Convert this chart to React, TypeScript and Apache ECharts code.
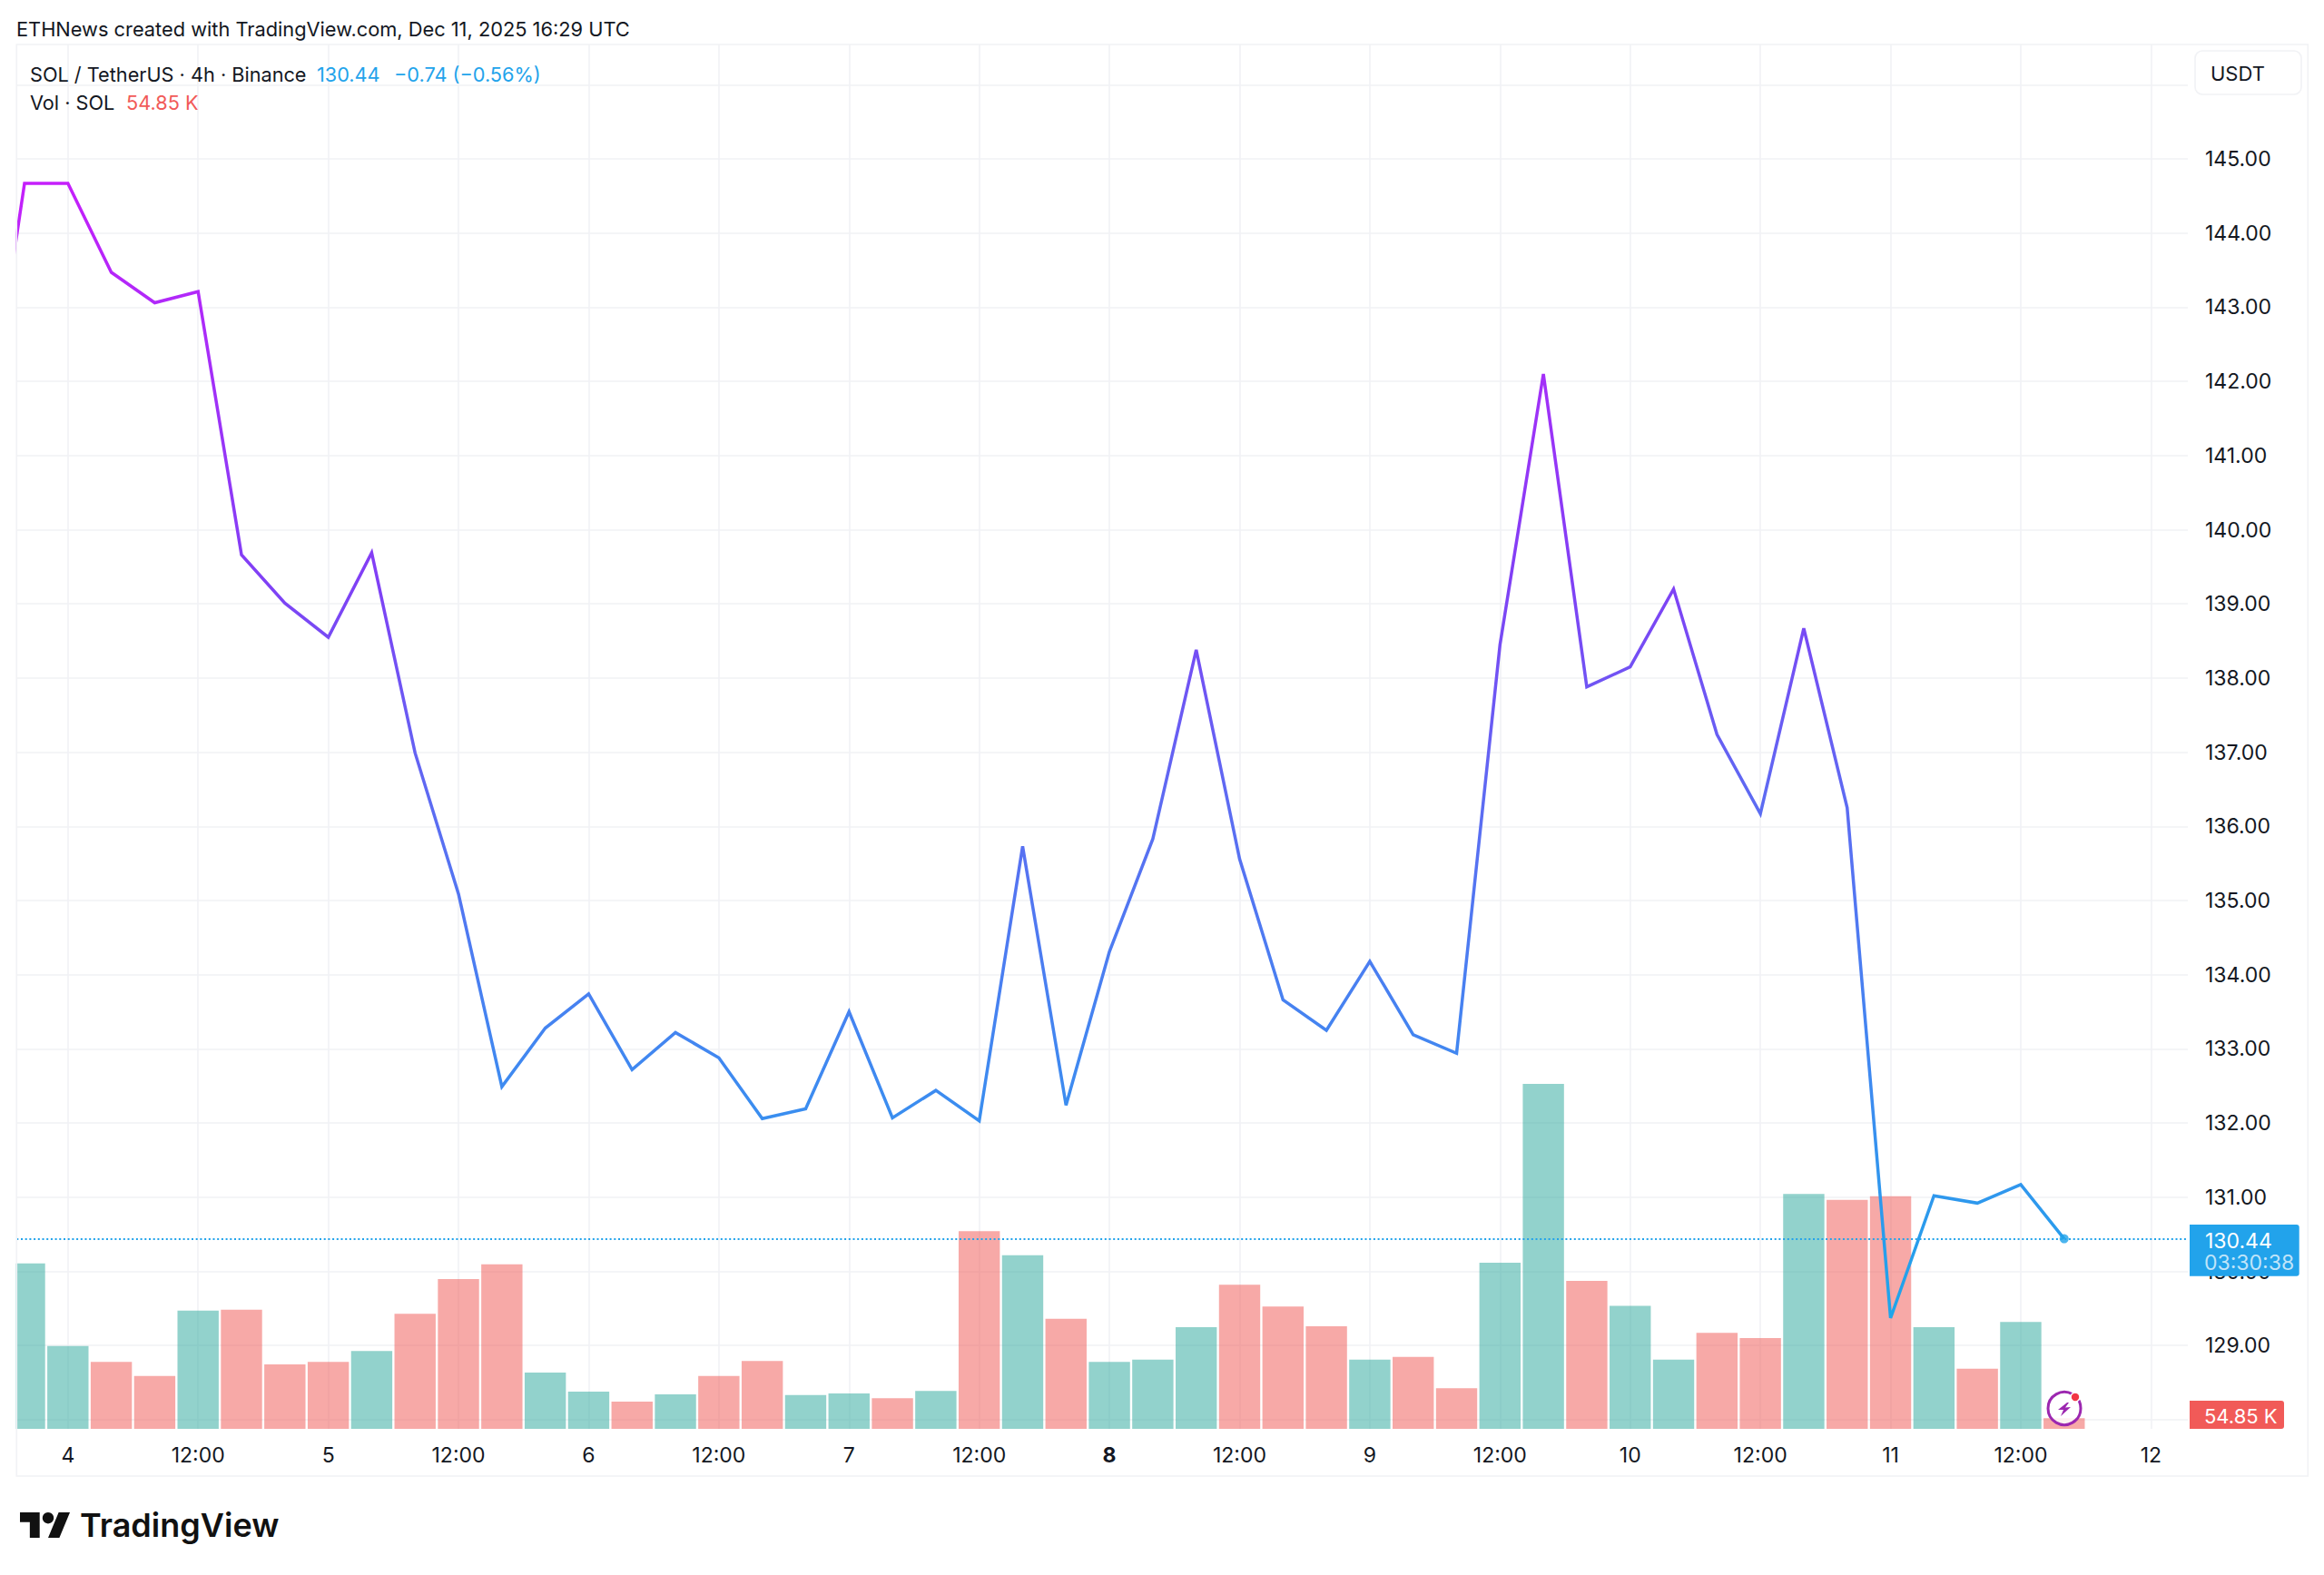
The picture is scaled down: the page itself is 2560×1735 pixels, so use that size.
import React, { useEffect, useRef } from "react";
import * as echarts from "echarts";

const firstPriceIndex = -2;
const closes = [
  140.75, 144.67, 144.67, 143.47, 143.06, 143.21, 139.66, 139.01, 138.55, 139.69,
  136.99, 135.09, 132.49, 133.28, 133.74, 132.72, 133.22, 132.88, 132.06, 132.19,
  133.5, 132.07, 132.44, 132.03, 135.73, 132.24, 134.31, 135.83, 138.38, 135.56,
  133.66, 133.25, 134.18, 133.19, 132.94, 138.45, 142.1, 137.88, 138.15, 139.2,
  137.24, 136.17, 138.67, 136.25, 129.37, 131.02, 130.92, 131.17, 130.44,
];

const firstVolumeIndex = -1;
const volumesK = [
  855, 428, 346, 273, 611, 616, 333, 346, 402, 594, 774, 850, 291, 192, 141, 178,
  273, 350, 175, 183, 158, 196, 1021, 897, 569, 346, 358, 525, 744, 632, 530, 358,
  372, 210, 858, 1782, 764, 636, 358, 496, 469, 1213, 1183, 1202, 525, 311, 552, 54.85,
];
const volumeSides = [
  "u", "u", "d", "d", "u", "d", "d", "d", "u", "d", "d", "d", "u", "u", "d", "u",
  "d", "d", "u", "u", "d", "u", "d", "u", "d", "u", "u", "u", "d", "d", "d", "u",
  "d", "d", "u", "u", "d", "u", "u", "d", "d", "u", "d", "d", "u", "d", "u", "d",
];

const timeTickIndexes = [0, 3, 6, 9, 12, 15, 18, 21, 24, 27, 30, 33, 36, 39, 42, 45, 48];
const timeTickLabels = ["4", "12:00", "5", "12:00", "6", "12:00", "7", "12:00", "8", "12:00", "9", "12:00", "10", "12:00", "11", "12:00", "12"];
const boldTimeLabel = "8";

const lastPrice = 130.44;
const lastIndex = 46;
const countdown = "03:30:38";
const lastVolumeLabel = "54.85 K";

const FONT = "Inter, 'Noto Sans', sans-serif";
const INK = "#131722";
const GRID = "#f1f2f5";
const BLUE = "#22a3eb";
const RED = "#f15a58";

const LOGO_D = "M14 18H7V7H0V0h14v18zM28 18h-8l7.5-18h8L28 18z";
echarts.graphic.registerShape("tvlogo", echarts.graphic.extendPath(LOGO_D, {}) as any);

function label(text: string, x: number, y: number, fill: string, fontSize = 23, extra: any = {}) {
  return {
    type: "text",
    z: 100,
    silent: true,
    style: { text, x, y, fill, fontSize, fontFamily: FONT, verticalAlign: "middle", textVerticalAlign: "middle", ...extra },
  };
}

function overlays(priceY: number) {
  return [
    { type: "rect", z: 90, silent: true, shape: { x: 0, y: 49, width: 17.4, height: 1535 }, style: { fill: "#ffffff" } },
    { type: "rect", z: 91, silent: true, shape: { x: 18.3, y: 49, width: 2524, height: 1577 }, style: { fill: "none", stroke: GRID, lineWidth: 1.6 } },
    label("ETHNews created with TradingView.com, Dec 11, 2025 16:29 UTC", 18, 32, INK, 21.8),
    label("SOL / TetherUS · 4h · Binance", 33, 82, INK, 21.7),
    label("130.44", 349, 82, BLUE, 21.7),
    label("−0.74 (−0.56%)", 434, 82, BLUE, 21.7),
    label("Vol · SOL", 33, 113, INK, 21.7),
    label(lastVolumeLabel, 139, 113, RED, 21.7),
    { type: "rect", z: 99, silent: true, shape: { x: 2418, y: 56, width: 117, height: 48, r: 8 }, style: { fill: "#fff", stroke: GRID, lineWidth: 1.6 } },
    label("USDT", 2435, 81, INK, 22),
    { type: "rect", z: 99, silent: true, shape: { x: 2412, y: priceY - 15.6, width: 120.7, height: 56.7, r: [0, 3, 3, 0] }, style: { fill: BLUE } },
    label("130.44", 2429, priceY + 2, "#ffffff"),
    label(countdown, 2428, priceY + 26.4, "rgba(255,255,255,0.72)"),
    { type: "rect", z: 99, silent: true, shape: { x: 2412, y: 1543, width: 104, height: 31, r: [0, 3, 3, 0] }, style: { fill: RED } },
    label(lastVolumeLabel, 2428, 1559.5, "#ffffff", 22),
    { type: "circle", z: 99, silent: true, shape: { cx: 2274, cy: 1551.5, r: 18 }, style: { fill: "rgba(255,255,255,0.85)", stroke: "#9c27b0", lineWidth: 3 } },
    { type: "polygon", z: 100, silent: true, shape: { points: [[2277, 1545], [2267, 1553], [2273, 1553], [2270, 1560], [2281, 1550], [2275, 1550.5], [2279, 1545]] }, style: { fill: "#9c27b0" } },
    { type: "circle", z: 101, silent: true, shape: { cx: 2286, cy: 1539, r: 5 }, style: { fill: "#f23645", stroke: "#fff", lineWidth: 1.5 } },
    { type: "tvlogo", z: 100, silent: true, x: 22, y: 1666, scaleX: 1.55, scaleY: 1.55, style: { fill: "#111" } },
    { type: "circle", z: 100, silent: true, shape: { cx: 22 + 20 * 1.55, cy: 1666 + 4 * 1.55, r: 4 * 1.55 }, style: { fill: "#111" } },
    label("TradingView", 88, 1680, "#111", 36, { fontWeight: 600 }),
  ];
}

export default function App() {
  const ref = useRef<HTMLDivElement>(null);
  useEffect(() => {
    const chart = echarts.init(ref.current!, undefined, { renderer: "svg" });
    const xMin = -1.182;
    const xMax = 48.85;
    const option: any = {
      animation: false,
      backgroundColor: "#ffffff",
      textStyle: { fontFamily: FONT },
      grid: [
        { left: 18.3, top: 93.3, width: 2391.7, height: 1470.6 },
        { left: 18.3, top: 49, width: 2391.7, height: 1525 },
      ],
      xAxis: [
        { type: "value", gridIndex: 0, min: xMin, max: xMax, show: false, splitLine: { show: false } },
        {
          type: "value",
          gridIndex: 1,
          min: xMin,
          max: xMax,
          axisLine: { show: false },
          axisTick: { show: false, customValues: timeTickIndexes },
          splitLine: { show: true, lineStyle: { color: GRID, width: 1.6 } },
          axisLabel: {
            customValues: timeTickIndexes,
            margin: 17,
            hideOverlap: false,
            showMinLabel: true,
            showMaxLabel: true,
            color: INK,
            fontSize: 23,
            fontFamily: FONT,
            formatter: (v: number) => {
              const t = timeTickLabels[timeTickIndexes.indexOf(v)] ?? "";
              return t === boldTimeLabel ? `{b|${t}}` : t;
            },
            rich: { b: { fontWeight: 700, fontSize: 23, fontFamily: FONT, color: INK } },
          },
        },
      ],
      yAxis: [
        {
          type: "value",
          gridIndex: 0,
          position: "right",
          min: 128,
          max: 146,
          interval: 1,
          axisLine: { show: false },
          axisTick: { show: false },
          splitLine: { show: true, lineStyle: { color: GRID, width: 1.6 } },
          axisLabel: {
            margin: 19,
            color: INK,
            fontSize: 23,
            fontFamily: FONT,
            formatter: (v: number) => (v === 146 || v === 128 ? "" : v.toFixed(2)),
          },
        },
        { type: "value", gridIndex: 1, min: 0, max: 7152, show: false, splitLine: { show: false } },
      ],
      series: [
        {
          type: "bar",
          xAxisIndex: 1,
          yAxisIndex: 1,
          barWidth: 45.4,
          z: 2,
          data: volumesK.map((v, i) => ({
            value: [firstVolumeIndex + i, v],
            itemStyle: { color: volumeSides[i] === "u" ? "rgba(38,166,154,0.5)" : "rgba(239,83,80,0.5)" },
          })),
        },
        {
          type: "line",
          xAxisIndex: 0,
          yAxisIndex: 0,
          z: 3,
          symbol: "none",
          clip: true,
          lineStyle: {
            width: 3.5,
            join: "miter",
            color: new echarts.graphic.LinearGradient(0, 0, 0, 1, [
              { offset: 0, color: "#c51ffb" },
              { offset: 0.35, color: "#8040f5" },
              { offset: 0.55, color: "#5c6cf2" },
              { offset: 0.8, color: "#3d8bf0" },
              { offset: 1, color: "#1ea6ea" },
            ]),
          },
          data: closes.map((v, i) => [firstPriceIndex + i, v]),
          markLine: {
            silent: true,
            symbol: "none",
            label: { show: false },
            lineStyle: { color: BLUE, type: [2, 2.7], width: 1.8 },
            data: [{ yAxis: lastPrice }],
          },
        },
        {
          type: "scatter",
          xAxisIndex: 0,
          yAxisIndex: 0,
          z: 4,
          symbolSize: 10,
          itemStyle: { color: "#1fa3ea" },
          data: [[lastIndex, lastPrice]],
        },
      ],
    };
    chart.setOption(option);
    const priceY = chart.convertToPixel({ yAxisIndex: 0 }, lastPrice) as number;
    chart.setOption({ graphic: overlays(priceY) });
    return () => chart.dispose();
  }, []);
  return <div ref={ref} style={{ position: "absolute", left: 0, top: 0, width: 2560, height: 1735 }} />;
}
